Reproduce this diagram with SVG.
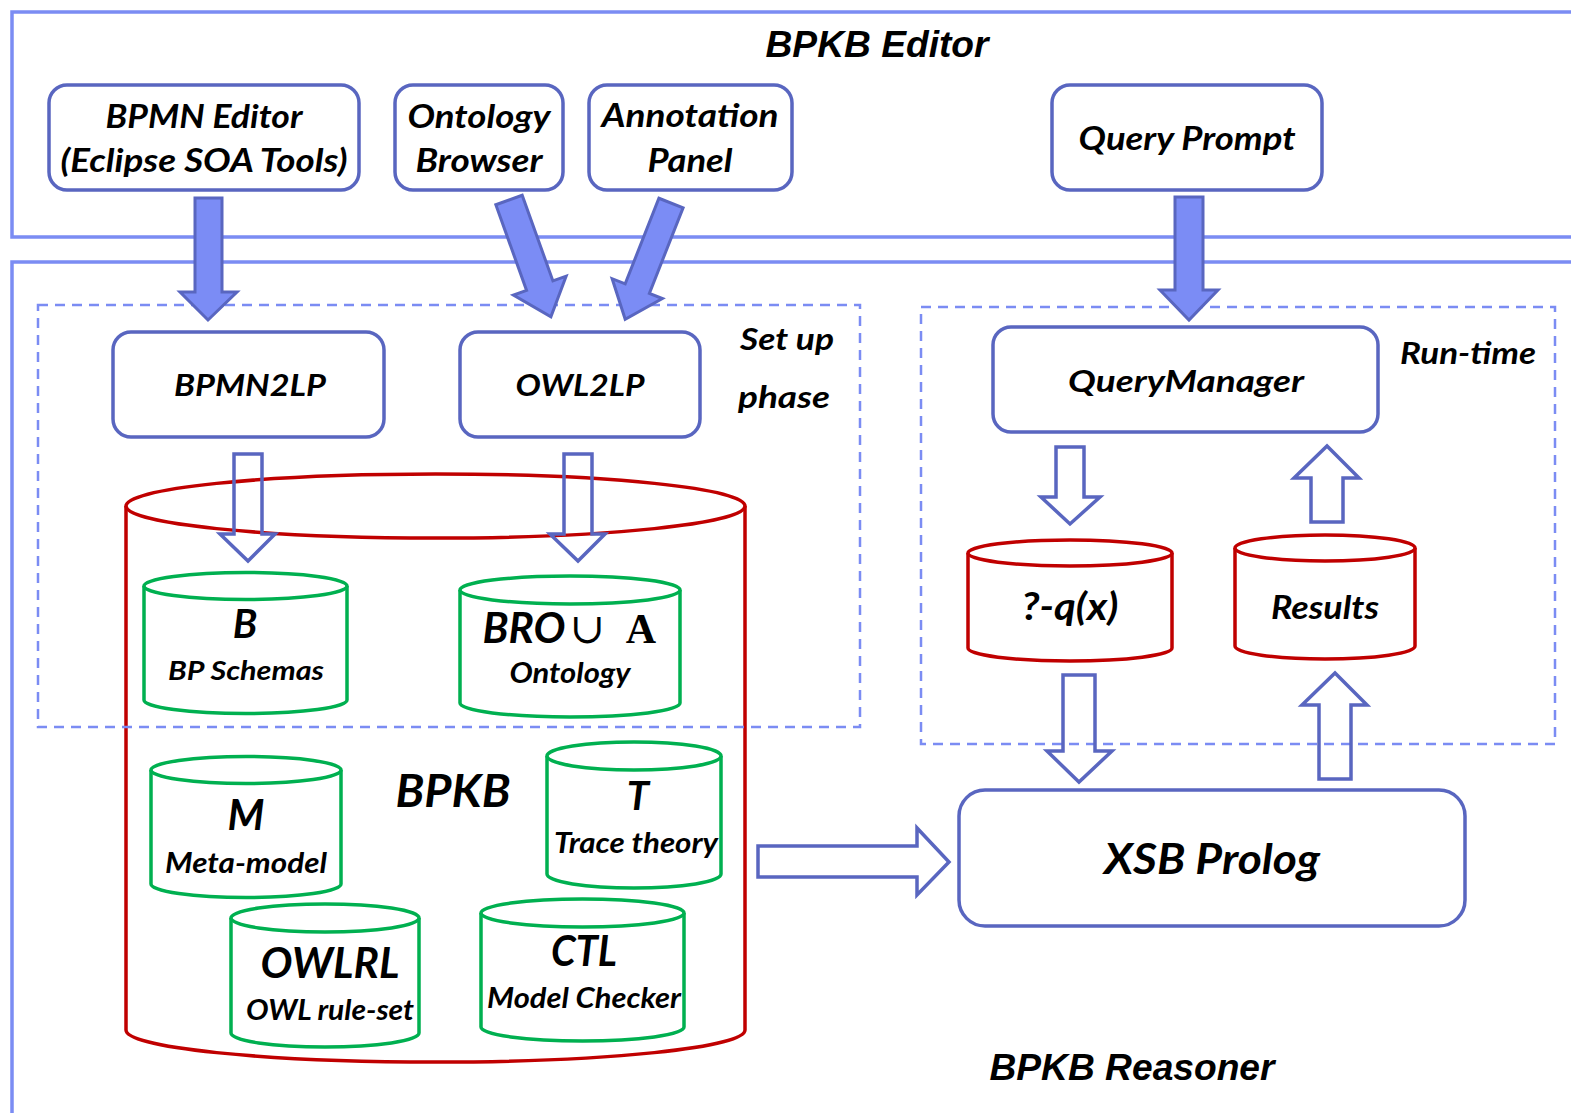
<svg xmlns="http://www.w3.org/2000/svg" width="1571" height="1113" viewBox="0 0 1571 1113">
<style>
.frame{fill:none;stroke:#7b8cf3;stroke-width:3.5}
.dash{fill:none;stroke:#7b8cf3;stroke-width:2.5;stroke-dasharray:10 7}
.box{fill:#fff;stroke:#5966c0;stroke-width:3.5}
.red{fill:#fff;stroke:#c00000;stroke-width:3.5}
.grn{fill:#fff;stroke:#00b050;stroke-width:3.5}
.fa{fill:#7b8cf5;stroke:#5966c0;stroke-width:3}
.ha{fill:none;stroke:#5966c0;stroke-width:3.5}
.t{font-family:Lato,"Open Sans",sans-serif;font-weight:bold;font-style:italic;fill:#000;text-anchor:middle}
.ti{font-family:"Liberation Sans",Arial,sans-serif;font-weight:bold;font-style:italic;fill:#000;text-anchor:middle}
</style>
<g id="frames">
<path class="frame" d="M1575,12 H12 V237 H1575"/>
<path class="frame" d="M1575,262 H12 V1120"/>
<text class="ti" x="877" y="57" font-size="36" textLength="223" lengthAdjust="spacingAndGlyphs">BPKB Editor</text>
<text class="ti" x="1132" y="1080" font-size="36" textLength="285" lengthAdjust="spacingAndGlyphs">BPKB Reasoner</text>
</g>
<g id="bpmn-editor">
<rect class="box" x="49" y="85" width="310" height="105" rx="18"/>
<text class="t" x="204" y="128" font-size="33" textLength="197" lengthAdjust="spacingAndGlyphs">BPMN Editor</text>
<text class="t" x="204" y="172" font-size="33" textLength="287" lengthAdjust="spacingAndGlyphs">(Eclipse SOA Tools)</text>
</g>
<g id="ontology-browser">
<rect class="box" x="395" y="85" width="168" height="105" rx="18"/>
<text class="t" x="479" y="128" font-size="33" textLength="143" lengthAdjust="spacingAndGlyphs">Ontology</text>
<text class="t" x="479" y="172" font-size="33" textLength="127" lengthAdjust="spacingAndGlyphs">Browser</text>
</g>
<g id="annotation-panel">
<rect class="box" x="589" y="85" width="203" height="105" rx="18"/>
<text class="t" x="690" y="127" font-size="33" textLength="177" lengthAdjust="spacingAndGlyphs">Annotation</text>
<text class="t" x="690" y="172" font-size="33" textLength="85" lengthAdjust="spacingAndGlyphs">Panel</text>
</g>
<g id="query-prompt">
<rect class="box" x="1052" y="85" width="270" height="105" rx="18"/>
<text class="t" x="1187" y="150" font-size="33" textLength="217" lengthAdjust="spacingAndGlyphs">Query Prompt</text>
</g>
<g id="bpmn2lp">
<rect class="box" x="113" y="332" width="271" height="105" rx="18"/>
<text class="t" x="250" y="396" font-size="31" textLength="152" lengthAdjust="spacingAndGlyphs">BPMN2LP</text>
</g>
<g id="owl2lp">
<rect class="box" x="460" y="332" width="240" height="105" rx="18"/>
<text class="t" x="580" y="396" font-size="31" textLength="129" lengthAdjust="spacingAndGlyphs">OWL2LP</text>
</g>
<g id="querymanager">
<rect class="box" x="993" y="327" width="385" height="105" rx="18"/>
<text class="t" x="1186" y="392" font-size="31" textLength="236" lengthAdjust="spacingAndGlyphs">QueryManager</text>
</g>
<g id="xsb-prolog">
<rect class="box" x="959" y="790" width="506" height="136" rx="26"/>
<text class="t" x="1212" y="874" font-size="42" textLength="216" lengthAdjust="spacingAndGlyphs">XSB Prolog</text>
</g>
<g id="bpkb">
<path class="red" d="M126,506 V1030 A309.5,32 0 0 0 745,1030 V506"/>
<ellipse class="red" cx="435.5" cy="506" rx="309.5" ry="32"/>
<text class="t" x="453" y="807" font-size="46" textLength="115" lengthAdjust="spacingAndGlyphs">BPKB</text>
</g>
<g id="setup-phase">
<rect class="dash" x="38" y="305" width="822" height="422"/>
<text class="t" x="740" y="350" font-size="31" style="text-anchor:start" textLength="94" lengthAdjust="spacingAndGlyphs">Set up</text>
<text class="t" x="738" y="408" font-size="31" style="text-anchor:start" textLength="92" lengthAdjust="spacingAndGlyphs">phase</text>
</g>
<g id="run-time">
<rect class="dash" x="921" y="307" width="634" height="437"/>
<text class="t" x="1400" y="364" font-size="31" style="text-anchor:start" textLength="136" lengthAdjust="spacingAndGlyphs">Run-time</text>
</g>
<g id="query-x">
<path class="red" d="M968,553 V648 A102,13 0 0 0 1172,648 V553"/>
<ellipse class="red" cx="1070" cy="553" rx="102" ry="13"/>
<text class="t" x="1070" y="620" font-size="38" textLength="97" lengthAdjust="spacingAndGlyphs">?-q(x)</text>
</g>
<g id="results">
<path class="red" d="M1235,548 V646 A90,13 0 0 0 1415,646 V548"/>
<ellipse class="red" cx="1325" cy="548" rx="90" ry="13"/>
<text class="t" x="1325" y="619" font-size="32" textLength="108" lengthAdjust="spacingAndGlyphs">Results</text>
</g>
<g id="bp-schemas">
<path class="grn" d="M144,586 V700 A101.5,13.5 0 0 0 347,700 V586"/>
<ellipse class="grn" cx="245.5" cy="586" rx="101.5" ry="13.5"/>
<text class="t" x="245" y="638" font-size="40">B</text>
<text class="t" x="246" y="680" font-size="27" textLength="156" lengthAdjust="spacingAndGlyphs">BP Schemas</text>
</g>
<g id="ontology">
<path class="grn" d="M460,590 V703 A110,14 0 0 0 680,703 V590"/>
<ellipse class="grn" cx="570" cy="590" rx="110" ry="14"/>
<text class="t" x="524" y="643" font-size="42" textLength="83" lengthAdjust="spacingAndGlyphs">BRO</text>
<text x="587" y="643" font-size="42" font-family="'Liberation Serif','DejaVu Serif',serif" text-anchor="middle">∪</text>
<text x="641" y="643" font-size="42" font-family="'Liberation Serif','DejaVu Serif',serif" font-weight="bold" text-anchor="middle">A</text>
<text class="t" x="570" y="683" font-size="29" textLength="121" lengthAdjust="spacingAndGlyphs">Ontology</text>
</g>
<g id="meta-model">
<path class="grn" d="M151,770 V884 A95,13.5 0 0 0 341,884 V770"/>
<ellipse class="grn" cx="246" cy="770" rx="95" ry="13.5"/>
<text class="t" x="246" y="830" font-size="42">M</text>
<text class="t" x="246" y="873" font-size="28" textLength="162" lengthAdjust="spacingAndGlyphs">Meta-model</text>
</g>
<g id="trace-theory">
<path class="grn" d="M547,756 V874 A87,14 0 0 0 721,874 V756"/>
<ellipse class="grn" cx="634" cy="756" rx="87" ry="14"/>
<text class="t" x="638" y="810" font-size="40">T</text>
<text class="t" x="636" y="853" font-size="28" textLength="164" lengthAdjust="spacingAndGlyphs">Trace theory</text>
</g>
<g id="owl-rule-set">
<path class="grn" d="M231,918 V1033 A94,14 0 0 0 419,1033 V918"/>
<ellipse class="grn" cx="325" cy="918" rx="94" ry="14"/>
<text class="t" x="330" y="978" font-size="42" textLength="139" lengthAdjust="spacingAndGlyphs">OWLRL</text>
<text class="t" x="330" y="1020" font-size="28" textLength="168" lengthAdjust="spacingAndGlyphs">OWL rule-set</text>
</g>
<g id="model-checker">
<path class="grn" d="M481,913 V1027 A101.5,14 0 0 0 684,1027 V913"/>
<ellipse class="grn" cx="582.5" cy="913" rx="101.5" ry="14"/>
<text class="t" x="584" y="966" font-size="42" textLength="66" lengthAdjust="spacingAndGlyphs">CTL</text>
<text class="t" x="584" y="1008" font-size="28" textLength="194" lengthAdjust="spacingAndGlyphs">Model Checker</text>
</g>
<g id="connectors">
<polygon class="fa" points="195,198 222,198 222,292 237,292 208,320 180,292 195,292"/>
<polygon class="fa" points="1175,197 1203,197 1203,290 1218,290 1189,320 1160,290 1175,290"/>
<polygon class="fa" transform="translate(509,200) rotate(-19.75)" points="-14,0 14,0 14,91 28,91 0,124 -28,91 -14,91"/>
<polygon class="fa" transform="translate(671,203) rotate(21.5)" points="-13,0 13,0 13,92 27,92 0,125 -27,92 -13,92"/>
<polygon class="ha" points="234,454 262,454 262,534 275,534 248,561 220,534 234,534"/>
<polygon class="ha" points="564,454 592,454 592,534 605,534 578,561 550,534 564,534"/>
<polygon class="ha" points="1056,447 1084,447 1084,497 1100,497 1070,524 1041,497 1056,497"/>
<polygon class="ha" points="1311,522 1343,522 1343,478 1359,478 1327,446 1294,478 1311,478"/>
<polygon class="ha" points="1063,675 1095,675 1095,751 1112,751 1079,782 1047,751 1063,751"/>
<polygon class="ha" points="1319,779 1351,779 1351,705 1367,705 1335,673 1302,705 1319,705"/>
<polygon class="ha" points="758,846 917,846 917,828 949,862 917,895 917,877 758,877"/>
</g>
</svg>
